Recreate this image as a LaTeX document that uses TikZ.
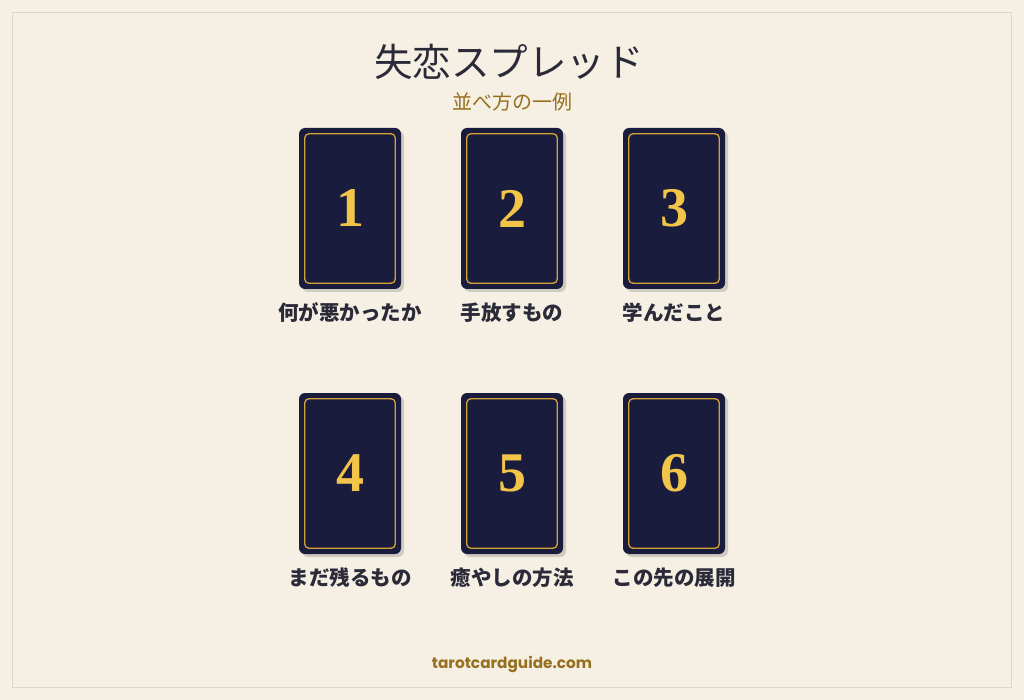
\documentclass[tikz,border=0pt]{standalone}
\usepackage{fontspec}
\usetikzlibrary{shadows}
\newfontfamily\cjk{Noto Sans CJK JP}
\newfontfamily\numfont{Liberation Serif}
\newfontfamily\pop{Poppins}
\definecolor{bgc}{HTML}{F5EFE4}
\definecolor{framec}{HTML}{DFD6C4}
\definecolor{navy}{HTML}{1A1C3E}
\definecolor{gold}{HTML}{D6A235}
\definecolor{numgold}{HTML}{F2C54A}
\definecolor{ink}{HTML}{2A2A38}
\definecolor{brown}{HTML}{96701F}
\definecolor{shadowc}{HTML}{D0CBC1}
\tikzset{
  card/.style={rectangle, rounded corners=6pt, fill=navy, minimum width=102pt, minimum height=161pt, inner sep=0pt,
    drop shadow={shadow xshift=3pt, shadow yshift=-3pt, fill=shadowc, opacity=1},
    text=numgold, font=\numfont\bfseries\fontsize{56}{60}\selectfont},
  lab/.style={text=ink, font=\cjk\bfseries\fontsize{20.5}{24}\selectfont, inner sep=0pt},
  innerframe/.style={draw=gold, line width=1.3pt, rounded corners=4pt}
}
\begin{document}
\begin{tikzpicture}[x=1pt,y=-1pt]
\useasboundingbox (0,0) rectangle (1024,700);
\fill[bgc] (0,0) rectangle (1024,700);
\draw[framec, line width=1.4pt] (12.5,12.5) rectangle (1011.5,687.5);
\node[text=ink, font=\cjk\fontsize{38.5}{42}\selectfont, inner sep=0pt] (title) at (509,62) {失恋スプレッド};
\node[text=brown, font=\cjk\fontsize{20}{22}\selectfont, inner sep=0pt] (sub) at (512,102) {並べ方の一例};
\foreach \i/\x/\y/\t in {1/350/208.5/何が悪かったか, 2/512/208.5/手放すもの, 3/674/208.5/学んだこと, 4/350/473.5/まだ残るもの, 5/512/473.5/癒やしの方法, 6/674/473.5/この先の展開}{
  \node[card] (c\i) at (\x,\y) {\i};
  \draw[innerframe] ([shift={(6,6)}]c\i.north west) rectangle ([shift={(-6,-6)}]c\i.south east);
  \node[lab] (l\i) at (\x,\y+104.5) {\t};
}
\node[text=brown, font=\pop\bfseries\fontsize{15.3}{18}\selectfont, inner sep=0pt] (foot) at (512,664) {tarotcardguide.com};
\end{tikzpicture}
\end{document}
